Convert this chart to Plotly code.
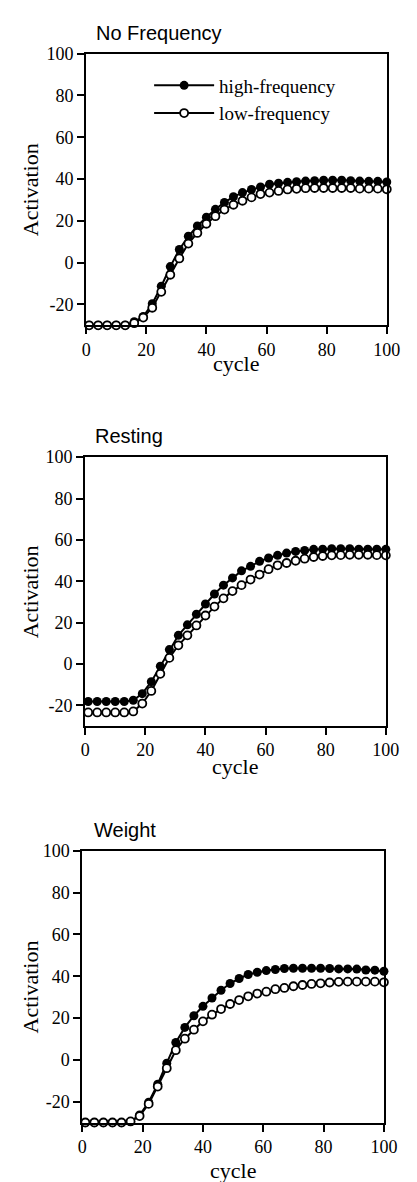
import plotly.graph_objects as go

W, H = 417, 1182

cycles = list(range(1, 101, 3))  # 1,4,...,100

nofreq_high = [-30, -30, -30, -30, -30, -28.3, -25.8, -19.7, -11.3, -1.9, 6.3, 12.6, 17.5, 21.7,
               25.5, 28.8, 31.5, 33.5, 35.0, 36.2, 37.5, 38.0, 38.4, 38.7, 39.0, 39.2, 39.4,
               39.4, 39.4, 39.2, 39.0, 38.9, 38.9, 38.6]
nofreq_low = [-30, -30, -30, -30, -30, -29.0, -26.3, -21.6, -14.0, -5.8, 2.0, 9.1, 14.2, 18.6,
              22.2, 25.4, 27.7, 29.6, 31.2, 32.8, 33.5, 34.3, 35.0, 35.3, 35.6, 35.7, 35.7,
              35.7, 35.7, 35.7, 35.4, 35.4, 35.4, 35.1]

rest_high = [-18.2, -18.2, -18.2, -18.2, -18.2, -17.6, -14.4, -8.6, -1.1, 6.9, 13.8, 18.9, 24.0,
             29.0, 33.8, 38.1, 41.6, 45.0, 47.2, 49.6, 51.2, 52.5, 53.6, 54.4, 54.9, 55.4, 55.5,
             55.7, 55.7, 55.7, 55.5, 55.5, 55.5, 55.4]
rest_low = [-23.5, -23.5, -23.5, -23.5, -23.5, -23.0, -19.2, -13.1, -4.8, 2.9, 9.0, 13.8, 18.6,
            23.4, 27.7, 31.7, 35.2, 38.1, 40.8, 43.2, 45.8, 47.7, 48.8, 49.9, 50.9, 51.7, 52.2,
            52.5, 52.6, 52.8, 52.8, 52.8, 52.6, 52.5]

weight_high = [-30, -30, -30, -30, -30, -29.5, -26.4, -20.3, -11.7, -1.6, 8.3, 15.5, 21.1, 25.6,
               29.6, 33.3, 36.5, 38.9, 40.8, 41.9, 42.7, 43.2, 43.7, 43.8, 43.8, 43.8, 43.8,
               43.7, 43.5, 43.5, 43.4, 43.0, 42.9, 42.4]
weight_low = [-30, -30, -30, -30, -30, -29.5, -26.9, -21.1, -12.8, -4.0, 4.6, 10.1, 14.4, 18.4,
              21.6, 24.3, 26.7, 28.6, 30.4, 31.7, 32.6, 33.8, 34.4, 35.2, 35.8, 36.3, 36.6,
              37.0, 37.3, 37.4, 37.4, 37.4, 37.4, 37.1]

panel_titles = ["No Frequency", "Resting", "Weight"]
series_names = ["high-frequency", "low-frequency"]
panels = [(nofreq_high, nofreq_low), (rest_high, rest_low), (weight_high, weight_low)]

x_ticks = [0, 20, 40, 60, 80, 100]
x_ticktext = ["0", "20", "40", "60", "80", "100"]
y_ticks = [-20, 0, 20, 40, 60, 80, 100]
y_ticktext = ["-20", "0", "20", "40", "60", "80", "100"]

# pixel layout (top, bottom, left, right) for each plot area
boxes = [(44, 318, 85, 400), (451, 722, 84, 399), (848, 1122, 81, 397)]
title_y = [23, 430, 827]
title_x = [93, 92, 91]
xtitle_y = [357, 763, 1170]

serif = "Liberation Serif, Times New Roman, serif"
sans = "Liberation Sans, Arial, sans-serif"

fig = go.Figure()
layout = dict(width=W, height=H, margin=dict(l=0, r=0, t=0, b=0),
              paper_bgcolor="white", plot_bgcolor="white", showlegend=True,
              annotations=[])

for i, ((hi, lo), (top, bot, left, right)) in enumerate(zip(panels, boxes)):
    k = "" if i == 0 else str(i + 1)
    xa, ya = "x" + k, "y" + k
    fig.add_trace(go.Scatter(x=cycles, y=hi, xaxis=xa, yaxis=ya, mode="lines+markers",
                             name=series_names[0], showlegend=(i == 0), cliponaxis=False,
                             line=dict(color="black", width=2),
                             marker=dict(symbol="circle", size=9, color="black")))
    fig.add_trace(go.Scatter(x=cycles, y=lo, xaxis=xa, yaxis=ya, mode="lines+markers",
                             name=series_names[1], showlegend=(i == 0), cliponaxis=False,
                             line=dict(color="black", width=2),
                             marker=dict(symbol="circle", size=8, color="white",
                                         line=dict(color="black", width=1.8))))
    axcommon = dict(showgrid=False, zeroline=False, showline=True, linecolor="black",
                    linewidth=2, mirror=True, ticks="outside", ticklen=7, tickwidth=2,
                    tickcolor="black", tickfont=dict(family=serif, size=18, color="black"))
    layout["xaxis" + k] = dict(axcommon, domain=[left / W, right / W], anchor=ya,
                               range=[0, 100], tickvals=x_ticks, ticktext=x_ticktext,
                               fixedrange=True)
    layout["yaxis" + k] = dict(axcommon, domain=[1 - bot / H, 1 - top / H], anchor=xa,
                               range=[-30, 100], tickvals=y_ticks, ticktext=y_ticktext,
                               fixedrange=True)
    layout["annotations"].append(dict(text=panel_titles[i], xref="paper", yref="paper",
                                      x=title_x[i] / W, y=1 - title_y[i] / H, xanchor="left",
                                      yanchor="middle", showarrow=False,
                                      font=dict(family=sans, size=20, color="black")))
    layout["annotations"].append(dict(text="Activation", xref="paper", yref="paper",
                                      x=27 / W, y=1 - (top + bot) / 2 / H, textangle=-90,
                                      xanchor="center", yanchor="middle", showarrow=False,
                                      font=dict(family=serif, size=22, color="black")))
    layout["annotations"].append(dict(text="cycle", xref="paper", yref="paper",
                                      x=(left + right) / 2 / W, y=1 - xtitle_y[i] / H,
                                      xanchor="center", yanchor="middle", showarrow=False,
                                      font=dict(family=serif, size=22, color="black")))

layout["legend"] = dict(x=151 / W, y=1 - 57 / H, xanchor="left", yanchor="top",
                        bgcolor="rgba(0,0,0,0)", borderwidth=0,
                        font=dict(family=serif, size=19, color="black"),
                        itemwidth=60, tracegroupgap=0)

fig.update_layout(**layout)
fig.write_html("out.html")
